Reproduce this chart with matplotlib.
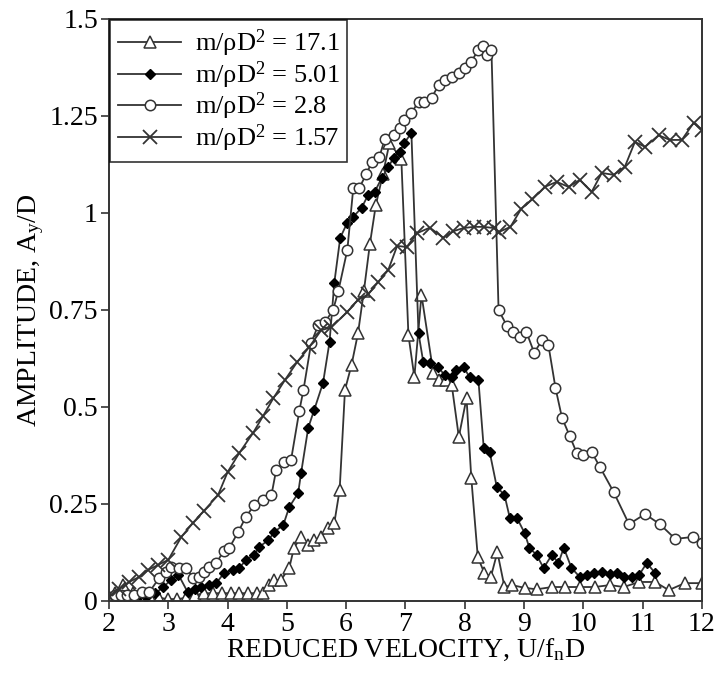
import matplotlib
matplotlib.use("Agg")
import matplotlib.pyplot as plt
from matplotlib.ticker import FuncFormatter

plt.rcParams['font.family'] = ['Liberation Serif', 'DejaVu Serif']
plt.rcParams['mathtext.fontset'] = 'custom'
plt.rcParams['mathtext.rm'] = 'Liberation Serif'
plt.rcParams['mathtext.it'] = 'Liberation Serif'

# m/rho D^2 = 17.1 (open triangles)
x_171 = [2.0, 2.1, 2.24, 2.4, 2.55, 2.7, 2.85, 3.0, 3.15, 3.3,
         3.45, 3.6, 3.75, 3.9, 4.05, 4.2, 4.35, 4.5, 4.6, 4.7,
         4.79, 4.9, 5.04, 5.12, 5.24, 5.36, 5.46, 5.58, 5.7, 5.8,
         5.89, 5.98, 6.09, 6.2, 6.3, 6.4, 6.5, 6.62, 6.73, 6.93,
         7.05, 7.15, 7.27, 7.47, 7.57, 7.69, 7.78, 7.9, 8.03, 8.11,
         8.22, 8.33, 8.44, 8.55, 8.67, 8.79, 9.01, 9.21, 9.47, 9.69,
         9.94, 10.19, 10.45, 10.68, 10.94, 11.21, 11.44, 11.71, 12.0]
y_171 = [0.005, 0.02, 0.04, 0.02, 0.01, 0.01, 0.008, 0.005, 0.005, 0.008,
         0.015, 0.02, 0.02, 0.02, 0.02, 0.02, 0.02, 0.02, 0.02, 0.041,
         0.054, 0.054, 0.085, 0.137, 0.165, 0.144, 0.157, 0.165, 0.188, 0.201,
         0.286, 0.544, 0.608, 0.69, 0.8, 0.92, 1.02, 1.1, 1.18, 1.14,
         0.685, 0.577, 0.789, 0.588, 0.57, 0.57, 0.557, 0.423, 0.523, 0.317,
         0.113, 0.072, 0.062, 0.126, 0.036, 0.041, 0.034, 0.03, 0.036, 0.036,
         0.036, 0.036, 0.041, 0.036, 0.049, 0.049, 0.028, 0.046, 0.046]

# m/rho D^2 = 5.01 (filled diamonds)
x_501 = [2.0, 2.15, 2.3, 2.45, 2.63, 2.78, 2.91, 3.05, 3.17, 3.33,
         3.45, 3.55, 3.69, 3.81, 3.94, 4.09, 4.2, 4.31, 4.45, 4.53,
         4.69, 4.79, 4.94, 5.04, 5.19, 5.24, 5.36, 5.46, 5.61, 5.72,
         5.8, 5.9, 6.02, 6.12, 6.26, 6.37, 6.48, 6.6, 6.71, 6.8,
         6.9, 6.98, 7.1, 7.22, 7.3, 7.41, 7.55, 7.66, 7.78, 7.86,
         7.98, 8.08, 8.23, 8.32, 8.42, 8.54, 8.67, 8.76, 8.88, 9.01,
         9.09, 9.21, 9.33, 9.47, 9.58, 9.67, 9.8, 9.94, 10.06, 10.18,
         10.31, 10.45, 10.56, 10.68, 10.82, 10.94, 11.07, 11.21]
y_501 = [0.005, 0.005, 0.005, 0.005, 0.01, 0.02, 0.035, 0.055, 0.068, 0.022,
         0.03, 0.035, 0.041, 0.046, 0.072, 0.08, 0.085, 0.106, 0.119, 0.139,
         0.157, 0.178, 0.196, 0.242, 0.278, 0.33, 0.446, 0.492, 0.562, 0.668,
         0.82, 0.936, 0.975, 0.99, 1.013, 1.046, 1.054, 1.09, 1.118, 1.142,
         1.157, 1.18, 1.206, 0.69, 0.616, 0.613, 0.603, 0.582, 0.577, 0.595,
         0.603, 0.577, 0.57, 0.394, 0.384, 0.294, 0.273, 0.214, 0.214, 0.175,
         0.137, 0.119, 0.085, 0.119, 0.098, 0.137, 0.085, 0.062, 0.067, 0.072,
         0.075, 0.07, 0.072, 0.062, 0.062, 0.067, 0.098, 0.072]

# m/rho D^2 = 2.8 (open circles)
x_28 = [2.0, 2.1, 2.2, 2.3, 2.42, 2.55, 2.68, 2.85, 2.96, 3.05,
        3.18, 3.3, 3.42, 3.52, 3.6, 3.69, 3.81, 3.94, 4.03, 4.18,
        4.31, 4.45, 4.6, 4.74, 4.82, 4.96, 5.07, 5.21, 5.28, 5.41,
        5.53, 5.65, 5.78, 5.87, 6.02, 6.12, 6.22, 6.34, 6.43, 6.56,
        6.65, 6.8, 6.9, 6.98, 7.1, 7.22, 7.32, 7.44, 7.56, 7.66,
        7.78, 7.9, 8.0, 8.11, 8.23, 8.3, 8.37, 8.45, 8.57, 8.71,
        8.82, 8.93, 9.04, 9.17, 9.31, 9.41, 9.53, 9.64, 9.77, 9.89,
        10.0, 10.14, 10.28, 10.51, 10.77, 11.04, 11.29, 11.55, 11.85, 12.0]
y_28 = [0.01, 0.015, 0.015, 0.015, 0.015, 0.023, 0.023, 0.06, 0.075, 0.088,
        0.085, 0.085, 0.06, 0.062, 0.075, 0.088, 0.098, 0.13, 0.137, 0.178,
        0.217, 0.247, 0.26, 0.273, 0.338, 0.358, 0.363, 0.49, 0.544, 0.665,
        0.711, 0.72, 0.75, 0.80, 0.905, 1.064, 1.064, 1.10, 1.13, 1.144,
        1.19, 1.2, 1.22, 1.24, 1.258, 1.286, 1.286, 1.296, 1.33, 1.343,
        1.35, 1.36, 1.374, 1.39, 1.42, 1.43, 1.407, 1.42, 0.75, 0.709,
        0.693, 0.68, 0.693, 0.64, 0.673, 0.66, 0.549, 0.472, 0.425, 0.381,
        0.376, 0.384, 0.345, 0.281, 0.198, 0.224, 0.198, 0.16, 0.165, 0.15]

# m/rho D^2 = 1.57 (crosses)
x_157 = [2.0, 2.17, 2.34, 2.51, 2.66, 2.83, 3.0, 3.22, 3.42, 3.6,
         3.84, 4.0, 4.2, 4.43, 4.6, 4.77, 4.97, 5.17, 5.38, 5.58,
         5.75, 6.02, 6.2, 6.37, 6.54, 6.71, 6.86, 7.02, 7.2, 7.41,
         7.64, 7.81, 7.98, 8.15, 8.32, 8.49, 8.58, 8.77, 8.95, 9.14,
         9.35, 9.55, 9.75, 9.94, 10.14, 10.31, 10.51, 10.7, 10.87, 11.04,
         11.27, 11.46, 11.66, 11.86, 12.0]
y_157 = [0.01, 0.03, 0.049, 0.062, 0.08, 0.093, 0.106, 0.165, 0.202, 0.232,
         0.273, 0.332, 0.382, 0.433, 0.477, 0.522, 0.57, 0.615, 0.655, 0.698,
         0.705, 0.745, 0.776, 0.79, 0.822, 0.853, 0.915, 0.912, 0.948, 0.962,
         0.936, 0.953, 0.961, 0.964, 0.964, 0.961, 0.951, 0.964, 1.01, 1.035,
         1.067, 1.08, 1.067, 1.085, 1.054, 1.103, 1.098, 1.119, 1.183, 1.17,
         1.2, 1.188, 1.188, 1.232, 1.214]

labels = [r'm/$\rho$D$^2$ = 17.1', r'm/$\rho$D$^2$ = 5.01',
          r'm/$\rho$D$^2$ = 2.8', r'm/$\rho$D$^2$ = 1.57']
x_ticks = [2, 3, 4, 5, 6, 7, 8, 9, 10, 11, 12]
y_ticks = [0, 0.25, 0.5, 0.75, 1, 1.25, 1.5]

ink = '#333333'
fig = plt.figure(figsize=(7.17, 6.73), dpi=100)
ax = fig.add_axes([0.152, 0.107, 0.827, 0.865])

ax.plot(x_171, y_171, color=ink, lw=1.3, marker='^', ms=8, mfc='white',
        mec=ink, mew=1.1, label=labels[0])
ax.plot(x_501, y_501, color=ink, lw=1.3, marker='D', ms=5.5, mfc='black',
        mec='black', label=labels[1])
ax.plot(x_28, y_28, color=ink, lw=1.3, marker='o', ms=7.5, mfc='white',
        mec=ink, mew=1.1, label=labels[2])
ax.plot(x_157, y_157, color=ink, lw=1.3, marker='x', ms=10, mec=ink,
        mew=1.3, label=labels[3])

ax.set_xlim(2, 12)
ax.set_ylim(0, 1.5)
ax.set_xticks(x_ticks)
ax.set_yticks(y_ticks)
ax.yaxis.set_major_formatter(FuncFormatter(lambda v, p: '{:g}'.format(v)))
ax.tick_params(direction='out', length=6, width=1.2, color=ink,
               labelsize=20, pad=2)
for s in ax.spines.values():
    s.set_color(ink)
    s.set_linewidth(1.4)

ax.set_xlabel(r'REDUCED VELOCITY, U/f$_\mathrm{n}$D', fontsize=20, labelpad=0)
ax.set_ylabel(r'AMPLITUDE, A$_\mathrm{y}$/D', fontsize=20, labelpad=2)

leg = ax.legend(loc='upper left', bbox_to_anchor=(0.002, 0.998),
                borderaxespad=0, fontsize=19, frameon=True, fancybox=False,
                handlelength=2.4, labelspacing=0.0, borderpad=0.3,
                handletextpad=0.5)
leg.get_frame().set_edgecolor('black')
leg.get_frame().set_linewidth(1.2)

fig.savefig('out.png', dpi=100)
